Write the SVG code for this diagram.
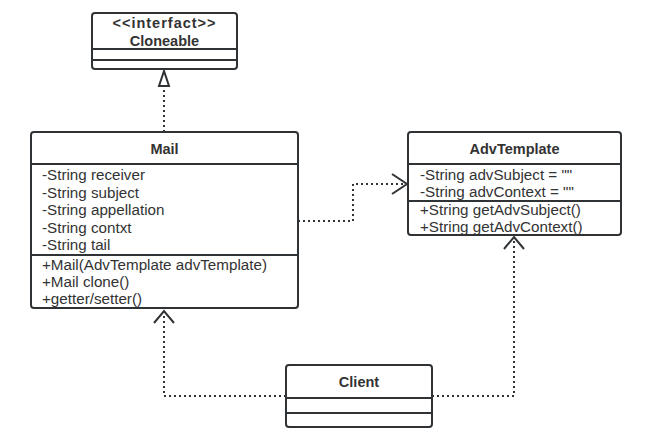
<svg xmlns="http://www.w3.org/2000/svg" width="659" height="448" viewBox="0 0 659 448">
<style>
.box{fill:#fff;stroke:#2f3336;stroke-width:2}
.div{stroke:#2f3336;stroke-width:2}
.t{font-family:"Liberation Sans",Arial,sans-serif;font-size:15.2px;fill:#333}
.b{font-weight:bold;text-anchor:middle;font-size:14.5px}
.c{fill:none;stroke:#2f3336;stroke-width:2;stroke-dasharray:2 3}
.h{fill:none;stroke:#2f3336;stroke-width:2}
</style>
<rect width="659" height="448" fill="#fff"/>
<g id="connectors">
<path class="c" d="M164 132 V86"/>
<path class="h" d="M164 71 L159 86 H169 Z"/>
<path class="c" d="M298 221 H353 V184 H405"/>
<path class="h" d="M392 174 L407 184 L392 194"/>
<path class="c" d="M286 396 H164 V312"/>
<path class="h" d="M154 323 L164 311 L174 323"/>
<path class="c" d="M432 396 H514 V238"/>
<path class="h" d="M504 249 L514 237 L524 249"/>
</g>
<g id="cloneable">
<rect class="box" x="92" y="13" width="145" height="56" rx="3"/>
<line class="div" x1="92" y1="49" x2="237" y2="49"/>
<line class="div" x1="92" y1="60" x2="237" y2="60"/>
<text class="t b" x="164.5" y="28" letter-spacing="1">&lt;&lt;interfact&gt;&gt;</text>
<text class="t b" x="164.5" y="46">Cloneable</text>
</g>
<g id="mail">
<rect class="box" x="31" y="132" width="267" height="176" rx="3"/>
<line class="div" x1="31" y1="164" x2="298" y2="164"/>
<line class="div" x1="31" y1="255" x2="298" y2="255"/>
<text class="t b" x="164.5" y="154">Mail</text>
<text class="t" x="42" y="180">-String receiver</text>
<text class="t" x="42" y="197.5">-String subject</text>
<text class="t" x="42" y="215">-String appellation</text>
<text class="t" x="42" y="232.5">-String contxt</text>
<text class="t" x="42" y="250">-String tail</text>
<text class="t" x="42" y="269.5">+Mail(AdvTemplate advTemplate)</text>
<text class="t" x="42" y="286.5">+Mail clone()</text>
<text class="t" x="42" y="303.5">+getter/setter()</text>
</g>
<g id="advtemplate">
<rect class="box" x="408" y="132" width="213" height="103" rx="3"/>
<line class="div" x1="408" y1="164" x2="621" y2="164"/>
<line class="div" x1="408" y1="201" x2="621" y2="201"/>
<text class="t b" x="514.5" y="154">AdvTemplate</text>
<text class="t" x="420" y="179.5">-String advSubject = ""</text>
<text class="t" x="420" y="197">-String advContext = ""</text>
<text class="t" x="420" y="215">+String getAdvSubject()</text>
<text class="t" x="420" y="232">+String getAdvContext()</text>
</g>
<g id="client">
<rect class="box" x="286" y="365" width="146" height="62" rx="3"/>
<line class="div" x1="286" y1="398" x2="432" y2="398"/>
<line class="div" x1="286" y1="413" x2="432" y2="413"/>
<text class="t b" x="359" y="387">Client</text>
</g>
</svg>
